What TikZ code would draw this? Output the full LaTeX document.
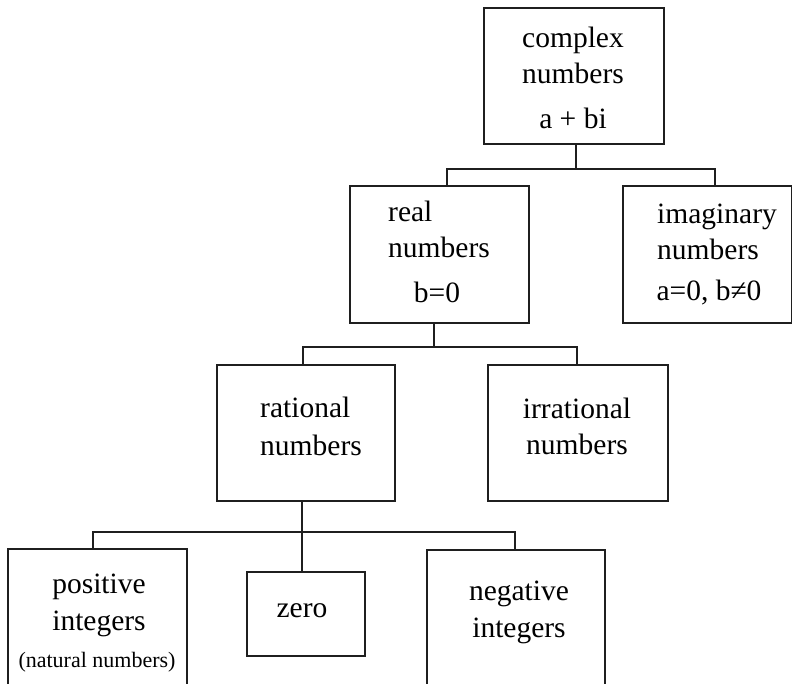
\documentclass[tikz,border=0pt]{standalone}
\usepackage{fontspec}
\setmainfont{Liberation Serif}
\usetikzlibrary{calc}
\begin{document}
\begin{tikzpicture}[x=1pt,y=-1pt,
  box/.style={draw=black!88,line width=1.8pt,inner sep=0pt,anchor=north west},
  txt/.style={inner sep=0pt,anchor=base,font=\fontsize{29.5}{36}\selectfont},
  txtl/.style={txt,anchor=base west,align=left},
  small/.style={inner sep=0pt,anchor=base,font=\fontsize{22}{26}\selectfont},
  link/.style={draw=black!88,line width=1.8pt}]
\useasboundingbox (0,0) rectangle (792,683);
\clip (0,0) rectangle (792,683);
% boxes
\node[box,minimum width=180pt,minimum height=136pt] (complex) at (483,7) {};
\node[box,minimum width=179pt,minimum height=137pt] (real) at (349,185) {};
\node[box,minimum width=169pt,minimum height=137pt] (imag) at (622,185) {};
\node[box,minimum width=178pt,minimum height=136pt] (rational) at (216,364) {};
\node[box,minimum width=180pt,minimum height=136pt] (irrational) at (487,364) {};
\node[box,minimum width=179pt,minimum height=170pt] (positive) at (7,548) {};
\node[box,minimum width=118pt,minimum height=84pt] (zero) at (246,571) {};
\node[box,minimum width=178pt,minimum height=170pt] (negative) at (426,549) {};
% texts (anchor = baseline of the last line)
\node[txt,align=center] (complextxt) at (573,128) {complex\\numbers\\[9pt]a + bi};
\node[txtl] (realtxt) at (388,257) {real\\numbers};
\node[txt] (realcond) at (437,302) {b=0};
\node[txtl] (imagtxt) at (657,259) {imaginary\\numbers};
\node[txt] (imagcond) at (709,300) {a=0, b≠0};
\node[txtl,font=\fontsize{29.5}{38}\selectfont] (rationaltxt) at (260,455) {rational\\numbers};
\node[txt,align=center] (irrationaltxt) at (577,454) {irrational\\numbers};
\node[txt,align=center,font=\fontsize{29.5}{37}\selectfont] (positivetxt) at (99,630) {positive\\integers};
\node[small] (positivenote) at (97,667) {(natural numbers)};
\node[txt] (zerotxt) at (302,617) {zero};
\node[txt,align=center,font=\fontsize{29.5}{37}\selectfont] (negativetxt) at (519,637) {negative\\integers};
% connectors
\coordinate (bus1) at (576,169);
\coordinate (bus2) at (434,347);
\coordinate (bus3) at (302,532);
\draw[link] (complex.south -| bus1) -- (bus1);
\draw[link] ($(real.north)+(7.5,0)$) |- (bus1) -| ($(imag.north)+(7.5,0)$);
\draw[link] (real.south -| bus2) -- (bus2);
\draw[link] ($(rational.north)+(-3,0)$) |- (bus2) -| ($(irrational.north)+(-1,0)$);
\draw[link] (rational.south -| bus3) -- (bus3);
\draw[link] ($(positive.north)+(-4.5,0)$) |- (bus3) -| ($(negative.north)+(-1,0)$);
\draw[link] (bus3) -- (zero.north -| bus3);
\end{tikzpicture}
\end{document}
